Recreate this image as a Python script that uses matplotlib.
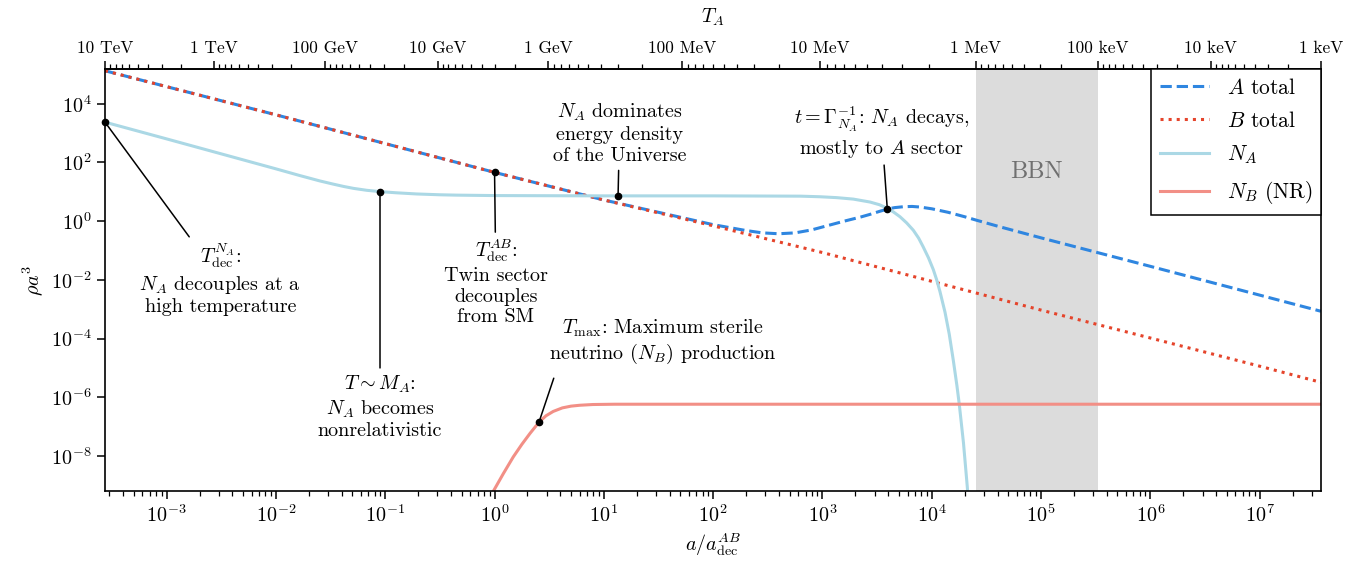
import numpy as np
import matplotlib
matplotlib.use("Agg")
import matplotlib.pyplot as plt
from matplotlib.ticker import FixedLocator, FixedFormatter, LogLocator, NullLocator

plt.rcParams["font.family"] = "serif"
plt.rcParams["font.serif"] = ["cmr10"]
plt.rcParams["mathtext.fontset"] = "cm"
plt.rcParams["axes.formatter.use_mathtext"] = True

# all values are log10
# B sector total (red dotted)
log_a_B = np.array([-3.564, -2.0, -1.0, 0.0, 1.0, 2.0, 3.0, 4.0, 5.0, 6.0, 7.0, 7.561])
log_rho_B = np.array([5.12, 3.62, 2.64, 1.66, 0.72, -0.16, -1.07, -2.05, -3.03, -3.98, -4.94, -5.49])

# A sector total (blue dashed)
log_a_A = np.array([-3.564, -2.0, -1.0, 0.0, 1.0, 2.0, 2.15, 2.3, 2.45, 2.6, 2.75, 2.9,
                    3.05, 3.2, 3.35, 3.435, 3.52, 3.593, 3.66, 3.739, 3.82, 3.892, 4.0,
                    4.15, 4.3, 4.41, 4.62, 5.0, 6.0, 7.0, 7.561])
log_rho_A = np.array([5.12, 3.62, 2.64, 1.66, 0.72, -0.12, -0.22, -0.32, -0.40, -0.43, -0.40, -0.30,
                      -0.15, 0.0, 0.14, 0.23, 0.33, 0.41, 0.46, 0.49, 0.50, 0.48, 0.42,
                      0.30, 0.15, 0.03, -0.19, -0.57, -1.54, -2.52, -3.07])

# N_A (light blue)
log_a_NA = np.array([-3.564, -3.0, -2.5, -2.0, -1.78, -1.6, -1.476, -1.38, -1.29, -1.17,
                     -1.048, -0.9, -0.713, -0.5, -0.347, 0.0, 1.0, 2.0, 2.8, 2.977,
                     3.13, 3.282, 3.435, 3.52, 3.593, 3.65, 3.709, 3.77, 3.831, 3.88,
                     3.922, 3.97, 4.014, 4.045, 4.075, 4.121, 4.16, 4.197, 4.23, 4.252,
                     4.29, 4.325, 4.36])
log_rho_NA = np.array([3.37, 2.80, 2.29, 1.78, 1.55, 1.37, 1.26, 1.18, 1.115, 1.05,
                       1.005, 0.965, 0.925, 0.897, 0.885, 0.87, 0.86, 0.86, 0.85, 0.83,
                       0.80, 0.75, 0.65, 0.56, 0.44, 0.31, 0.15, -0.06, -0.31, -0.58,
                       -0.88, -1.25, -1.65, -2.0, -2.40, -3.1, -3.85, -4.74, -5.6, -6.25,
                       -7.55, -9.05, -10.8])

# N_B non-relativistic (salmon)
log_a_NB = np.array([-0.06, -0.01, 0.08, 0.171, 0.25, 0.324, 0.406, 0.47, 0.537, 0.62,
                     0.70, 0.78, 0.9, 1.1, 7.561])
log_rho_NB = np.array([-9.5, -9.19, -8.6, -8.03, -7.6, -7.23, -6.85, -6.63, -6.48, -6.36,
                       -6.30, -6.27, -6.245, -6.235, -6.235])

# temperature of the A sector vs scale factor (top axis)
log_T_ticks = np.array([4, 3, 2, 1, 0, -1, -2, -3, -4, -5, -6])  # GeV
log_a_at_T = np.array([-3.564, -2.564, -1.555, -0.522, 0.490, 1.715, 2.980, 4.402, 5.520, 6.554, 7.561])
T_labels = ["10 TeV", "1 TeV", "100 GeV", "10 GeV", "1 GeV", "100 MeV",
            "10 MeV", "1 MeV", "100 keV", "10 keV", "1 keV"]

# annotated points (log a, log rho)
ann_log_a = [-3.564, -1.048, 0.0, 1.13, 3.593, 0.406]
ann_log_rho = [3.37, 1.005, 1.66, 0.86, 0.42, -6.85]
ann_text = [
    "$T_{\\rm dec}^{N_A}$:\n$N_A$ decouples at a\nhigh temperature",
    "$T\\sim M_A$:\n$N_A$ becomes\nnonrelativistic",
    "$T_{\\rm dec}^{AB}$:\nTwin sector\ndecouples\nfrom SM",
    "$N_A$ dominates\nenergy density\nof the Universe",
    "$t=\\Gamma_{N_A}^{-1}$: $N_A$ decays,\nmostly to $A$ sector",
    "$T_{\\rm max}$: Maximum sterile\nneutrino ($N_B$) production",
]
ann_offset = [(83, -113), (0, -155), (1, -79), (1, 45), (-4, 55), (89, 58)]


def a_to_T(a):
    a = np.clip(np.asarray(a, dtype=float), 1e-300, None)
    return 10.0 ** np.interp(np.log10(a), log_a_at_T, log_T_ticks)


def T_to_a(T):
    T = np.clip(np.asarray(T, dtype=float), 1e-300, None)
    return 10.0 ** np.interp(np.log10(T), log_T_ticks[::-1], log_a_at_T[::-1])


fig = plt.figure(figsize=(13.72, 5.67), dpi=100)
ax = fig.add_axes([105 / 1372, 1 - 491 / 567, 1216 / 1372, (491 - 69.3) / 567])

# BBN window between T = 1 MeV and 100 keV
ax.axvspan(T_to_a(1e-3), T_to_a(1e-4), color="#dcdcdc", lw=0, zorder=0)
ax.text(np.sqrt(T_to_a(1e-3) * T_to_a(1e-4)), 10 ** 1.67, "BBN", color="#707070",
        fontsize=17.5, ha="center", va="center")

ax.plot(10 ** log_a_A, 10 ** log_rho_A, ls="--", color="#2f86e0", lw=2.2, label="$A$ total")
ax.plot(10 ** log_a_B, 10 ** log_rho_B, ls=":", color="#e5442b", lw=2.2, label="$B$ total")
ax.plot(10 ** log_a_NA, 10 ** log_rho_NA, color="#abd8e5", lw=2.2, label="$N_A$")
ax.plot(10 ** log_a_NB, 10 ** log_rho_NB, color="#f28f86", lw=2.2, label="$N_B$ (NR)")

for la, lr, txt, off in zip(ann_log_a, ann_log_rho, ann_text, ann_offset):
    is_tmax = txt.startswith("$T_{\\rm max}")
    ax.annotate(txt, xy=(10 ** la, 10 ** lr), xytext=off, textcoords="offset points",
                ha="center", va="center", fontsize=14.5,
                arrowprops=dict(arrowstyle="-", color="black", lw=1.1,
                                shrinkA=7 if is_tmax else 2, shrinkB=0,
                                relpos=(0.04, 0.0) if is_tmax else (0.5, 0.5)))
    ax.plot(10 ** la, 10 ** lr, "o", color="black", ms=4.5, clip_on=False, zorder=5)

ax.set_xscale("log")
ax.set_yscale("log")
ax.set_xlim(10 ** log_a_at_T[0], 10 ** log_a_at_T[-1])
ax.set_ylim(10 ** -9.19, 10 ** 5.17)
ax.xaxis.set_major_locator(LogLocator(base=10, numticks=30))
ax.xaxis.set_minor_locator(LogLocator(base=10, subs=np.arange(2, 10), numticks=30))
ax.set_yticks([1e-8, 1e-6, 1e-4, 1e-2, 1e0, 1e2, 1e4])
ax.yaxis.set_minor_locator(NullLocator())
ax.tick_params(which="major", length=6, width=1.1, labelsize=14.5)
ax.tick_params(which="minor", length=3.5, width=0.9)
for s in ax.spines.values():
    s.set_linewidth(1.2)

ax.set_xlabel("$a/a_{\\rm dec}^{AB}$", fontsize=14.5)
ax.set_ylabel("$\\rho a^3$", fontsize=14.5)

secax = ax.secondary_xaxis("top", functions=(a_to_T, T_to_a))
secax.xaxis.set_major_locator(FixedLocator(10.0 ** log_T_ticks))
secax.xaxis.set_major_formatter(FixedFormatter(T_labels))
minor_T = [k * 10.0 ** n for n in range(-6, 4) for k in range(2, 10)]
secax.xaxis.set_minor_locator(FixedLocator(minor_T))
secax.tick_params(which="major", length=6, width=1.1, labelsize=12.5)
secax.tick_params(which="minor", length=3.5, width=0.9)
secax.spines["top"].set_linewidth(1.2)
secax.set_xlabel("$T_A$", fontsize=14.5, labelpad=13)

leg = ax.legend(loc="upper right", borderaxespad=0, fancybox=False, framealpha=1,
                edgecolor="black", fontsize=15.5, handlelength=2.3, labelspacing=0.6)
leg.get_frame().set_linewidth(1.1)

fig.savefig("out.png", dpi=100)
